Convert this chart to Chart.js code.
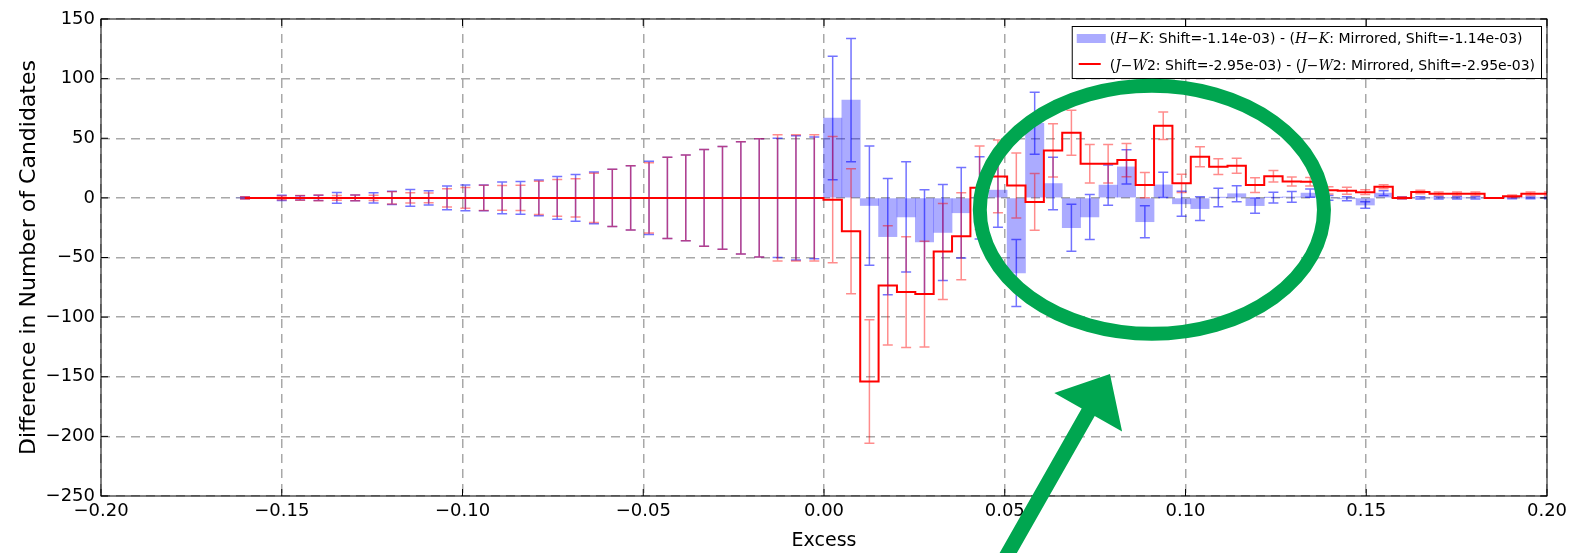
<!DOCTYPE html>
<html>
<head>
<meta charset="utf-8">
<script src="https://cdn.jsdelivr.net/npm/chart.js@4.4.0/dist/chart.umd.min.js"></script>
<style>
    html, body { margin: 0; padding: 0; background: #fff; }
    #wrap { width: 1573px; height: 553px; }
</style>
</head>
<body>
<div id="wrap"><canvas id="mirrorChart"></canvas></div>
<script>
// bin centres (Excess)
var excess = [
    -0.16016, -0.15508, -0.15000, -0.14492, -0.13984, -0.13476, -0.12968, -0.12460, -0.11952, -0.11444,
    -0.10936, -0.10428, -0.09920, -0.09412, -0.08904, -0.08396, -0.07888, -0.07380, -0.06872, -0.06364,
    -0.05856, -0.05348, -0.04840, -0.04332, -0.03824, -0.03316, -0.02808, -0.02300, -0.01792, -0.01284,
    -0.00776, -0.00268, 0.00240, 0.00748, 0.01256, 0.01764, 0.02272, 0.02780, 0.03288, 0.03796,
    0.04304, 0.04812, 0.05320, 0.05828, 0.06336, 0.06844, 0.07352, 0.07860, 0.08368, 0.08876,
    0.09384, 0.09892, 0.10400, 0.10908, 0.11416, 0.11924, 0.12432, 0.12940, 0.13448, 0.13956,
    0.14464, 0.14972, 0.15480, 0.15988, 0.16496, 0.17004, 0.17512, 0.18020, 0.18528, 0.19036,
    0.19544, 0.20052
];
// H-K difference (blue bars) and its errors
var hkDiff = [
    0, 0, 0, 0, 0, 0, 0, 0, 0, 0,
    0, 0, 0, 0, 0, 0, 0, 0, 0, 0,
    0, 0, 0, 0, 0, 0, 0, 0, 0, 0,
    0, 0, 67, 82, -6.4, -32.5, -16, -37, -29, -12.5,
    0, 6.5, -63, 62.5, 12, -25, -16, 10.7, 26, -20,
    10.9, -5, -9, 0.3, 3.5, -6.5, 0.2, 0.8, 4, 0,
    -0.8, -6, 4, 0, 0, 0, 0, 0, 0, 0,
    0, 0
];
var hkErr = [
    0.8, 0, 2.2, 1.8, 2.2, 4.5, 2.5, 4.2, 5.6, 7,
    6, 10, 10.8, 10.8, 13.4, 13.7, 15, 18, 19.7, 21.7,
    24, 27, 30.7, 34, 36, 40.5, 43, 47, 49.5, 50,
    52, 51, 51.7, 51.7, 50, 48.7, 46.2, 43.8, 40.2, 38,
    34.5, 31.2, 28, 26, 22, 19.7, 18.9, 16.8, 14.4, 13.5,
    10.5, 10.5, 10, 7.7, 6.7, 6.3, 4.6, 4.5, 3.5, 2,
    1.7, 2.7, 2, 0.8, 1, 1, 1, 1, 0, 0.8,
    0.8, 0.8
];
// J-W2 difference (red steps) and its errors
var jwDiff = [
    0, 0, 0, 0, 0, 0, 0, 0, 0, 0,
    0, 0, 0, 0, 0, 0, 0, 0, 0, 0,
    0, 0, 0, 0, 0, 0, 0, 0, 0, 0,
    0, 0, -1.5, -28, -154, -73.4, -79, -80.7, -45, -32.2,
    8.4, 18, 10.4, -3.4, 39.8, 54.6, 28.6, 28.6, 31.7, 10.7,
    60.5, 12.2, 34.5, 26.2, 27, 10.7, 18.2, 13.8, 13.5, 6.3,
    6, 4.8, 9.3, 0, 4.9, 3.4, 3.4, 3.4, 0, 1.4,
    3.4, 3.4
];
var jwErr = [
    1, 0, 1.5, 2, 2.5, 2, 2.5, 2.3, 5.2, 4.2,
    4, 7.7, 8.7, 10.5, 10.4, 10.5, 14, 15.4, 16, 20.6,
    24, 27, 29.5, 34, 36, 40.5, 43, 47, 49.5, 53,
    53, 53, 53, 52.5, 51.8, 50, 46.4, 44.3, 40.2, 36.4,
    35, 30.5, 27.3, 23.8, 22.3, 18.9, 16.1, 16.1, 14, 10.6,
    11.6, 7.6, 8.4, 6.7, 6.3, 6.1, 4.8, 3.8, 3.5, 3,
    3, 2, 1.7, 1, 1.5, 1.5, 1.5, 1.5, 0, 1,
    1.5, 1.5
];
// axis ticks
var xTickValues = [-0.20, -0.15, -0.10, -0.05, 0.00, 0.05, 0.10, 0.15, 0.20];
var xTickLabels = ['\u22120.20', '\u22120.15', '\u22120.10', '\u22120.05', '0.00', '0.05', '0.10', '0.15', '0.20'];
var yTickValues = [-250, -200, -150, -100, -50, 0, 50, 100, 150];
var yTickLabels = ['\u2212250', '\u2212200', '\u2212150', '\u2212100', '\u221250', '0', '50', '100', '150'];
// legend rows: [text, italic]
var hkLegend = [['(', false], ['H\u2212K', true], [': Shift=-1.14e-03) - (', false], ['H\u2212K', true], [': Mirrored, Shift=-1.14e-03)', false]];
var jwLegend = [['(', false], ['J\u2212W', true], ['2: Shift=-2.95e-03) - (', false], ['J\u2212W', true], ['2: Mirrored, Shift=-2.95e-03)', false]];
// highlight ring and arrow, in data units
var ringCentre = [0.0907, -10];
var ringRadius = [0.0476, 104];
var arrowTip = [0.0791, -147.7];
var arrowTail = [0.0498, -304];

var hkFill = 'rgba(0, 0, 255, 0.33)';
var hkErrColor = 'rgba(0, 0, 255, 0.55)';
var jwErrColor = 'rgba(255, 0, 0, 0.45)';
var markGreen = '#00a650';
var fontFamily = '"DejaVu Sans", sans-serif';

function toPoints(vals) {
    return excess.map(function(x, i) { return { x: x, y: vals[i] }; });
}

// error bars with caps
function drawErrors(chart, vals, errs, color) {
    const ctx = chart.ctx, xs = chart.scales.x, ys = chart.scales.y, area = chart.chartArea;
    ctx.save();
    ctx.beginPath();
    ctx.rect(area.left, area.top, area.right - area.left, area.bottom - area.top);
    ctx.clip();
    ctx.strokeStyle = color;
    ctx.lineWidth = 1.5;
    for (let i = 0; i < excess.length; i++) {
        if (!errs[i]) continue;
        const px = xs.getPixelForValue(excess[i]);
        const top = ys.getPixelForValue(vals[i] + errs[i]);
        const bot = ys.getPixelForValue(vals[i] - errs[i]);
        ctx.beginPath();
        ctx.moveTo(px, top); ctx.lineTo(px, bot);
        ctx.moveTo(px - 5, top); ctx.lineTo(px + 5, top);
        ctx.moveTo(px - 5, bot); ctx.lineTo(px + 5, bot);
        ctx.stroke();
    }
    ctx.restore();
}

var errorBarPlugin = {
    id: 'errorBars',
    afterDatasetDraw: function(chart, args) {
        if (args.index !== 0) return;
        drawErrors(chart, hkDiff, hkErr, hkErrColor);
        drawErrors(chart, jwDiff, jwErr, jwErrColor);
    }
};

// black frame with inward ticks on all four sides
var framePlugin = {
    id: 'frame',
    afterDraw: function(chart) {
        const ctx = chart.ctx, a = chart.chartArea, xs = chart.scales.x, ys = chart.scales.y;
        ctx.save();
        ctx.strokeStyle = '#000';
        ctx.lineWidth = 1;
        ctx.strokeRect(a.left, a.top, a.right - a.left, a.bottom - a.top);
        ctx.beginPath();
        xTickValues.forEach(function(v) {
            const px = xs.getPixelForValue(v);
            ctx.moveTo(px, a.bottom); ctx.lineTo(px, a.bottom - 7);
            ctx.moveTo(px, a.top); ctx.lineTo(px, a.top + 7);
        });
        yTickValues.forEach(function(v) {
            const py = ys.getPixelForValue(v);
            ctx.moveTo(a.left, py); ctx.lineTo(a.left + 7, py);
            ctx.moveTo(a.right, py); ctx.lineTo(a.right - 7, py);
        });
        ctx.stroke();
        ctx.restore();
    }
};

function drawRich(ctx, parts, x, y, measureOnly) {
    parts.forEach(function(p) {
        ctx.font = p[1] ? 'italic 14px "DejaVu Serif", serif' : '14px ' + fontFamily;
        if (!measureOnly) ctx.fillText(p[0], x, y);
        x += ctx.measureText(p[0]).width;
    });
    return x;
}

var legendPlugin = {
    id: 'mirrorLegend',
    afterDraw: function(chart) {
        const ctx = chart.ctx, a = chart.chartArea;
        ctx.save();
        ctx.textBaseline = 'middle';
        const textW = Math.max(drawRich(ctx, hkLegend, 0, 0, true), drawRich(ctx, jwLegend, 0, 0, true));
        const boxW = 38 + textW + 6, boxH = 52;
        const left = a.right - 6 - boxW, top = a.top + 7;
        ctx.fillStyle = '#fff';
        ctx.fillRect(left, top, boxW, boxH);
        ctx.strokeStyle = '#000';
        ctx.lineWidth = 1;
        ctx.strokeRect(left + 0.5, top + 0.5, boxW, boxH);
        ctx.fillStyle = hkFill;
        ctx.fillRect(left + 5, top + 8, 29, 9);
        ctx.strokeStyle = 'red';
        ctx.lineWidth = 2;
        ctx.beginPath();
        ctx.moveTo(left + 7, top + 38); ctx.lineTo(left + 29, top + 38);
        ctx.stroke();
        ctx.fillStyle = '#000';
        drawRich(ctx, hkLegend, left + 38, top + 13);
        drawRich(ctx, jwLegend, left + 38, top + 40);
        ctx.restore();
    }
};

// green ring and arrow drawn over the chart
var highlightPlugin = {
    id: 'highlight',
    afterDraw: function(chart) {
        const ctx = chart.ctx, xs = chart.scales.x, ys = chart.scales.y;
        const cx = xs.getPixelForValue(ringCentre[0]), cy = ys.getPixelForValue(ringCentre[1]);
        const rx = xs.getPixelForValue(ringCentre[0] + ringRadius[0]) - cx;
        const ry = cy - ys.getPixelForValue(ringCentre[1] + ringRadius[1]);
        ctx.save();
        ctx.strokeStyle = markGreen;
        ctx.lineWidth = 14;
        ctx.beginPath();
        ctx.ellipse(cx, cy, rx, ry, 0, 0, Math.PI * 2);
        ctx.stroke();

        const tx = xs.getPixelForValue(arrowTip[0]), ty = ys.getPixelForValue(arrowTip[1]);
        const bx = xs.getPixelForValue(arrowTail[0]), by = ys.getPixelForValue(arrowTail[1]);
        const len = Math.hypot(tx - bx, ty - by);
        const ux = (tx - bx) / len, uy = (ty - by) / len;
        const nx = -uy, ny = ux;
        const shaft = 7.5, headLen = 44, headW = 39;
        const hx = tx - ux * headLen, hy = ty - uy * headLen;
        ctx.fillStyle = markGreen;
        ctx.beginPath();
        ctx.moveTo(bx + nx * shaft, by + ny * shaft);
        ctx.lineTo(hx + nx * shaft, hy + ny * shaft);
        ctx.lineTo(hx + nx * headW, hy + ny * headW);
        ctx.lineTo(tx, ty);
        ctx.lineTo(hx - nx * headW, hy - ny * headW);
        ctx.lineTo(hx - nx * shaft, hy - ny * shaft);
        ctx.lineTo(bx - nx * shaft, by - ny * shaft);
        ctx.closePath();
        ctx.fill();
        ctx.restore();
    }
};

function initChart() {
    Chart.defaults.color = '#000';
    Chart.defaults.font.family = fontFamily;
    const gridOpts = { color: '#a8a8a8', lineWidth: 1.5, drawTicks: false, offset: false };
    const borderOpts = { display: false, dash: [9, 6] };

    const data = {
        datasets: [{
            type: 'bar',
            label: 'H-K',
            data: toPoints(hkDiff),
            backgroundColor: hkFill,
            borderWidth: 0,
            barThickness: 'flex',
            barPercentage: 1,
            categoryPercentage: 1,
            order: 2
        }, {
            type: 'line',
            label: 'J-W2',
            data: toPoints(jwDiff),
            borderColor: 'rgb(255, 0, 0)',
            borderWidth: 2,
            stepped: 'middle',
            fill: false,
            pointRadius: 0,
            order: 1
        }]
    };
    const config = {
        type: 'bar',
        data: data,
        options: {
            responsive: true,
            maintainAspectRatio: false,
            animation: false,
            layout: { padding: { left: 0, right: 26, top: 19, bottom: 0 } },
            plugins: { legend: { display: false }, tooltip: { enabled: false } },
            scales: {
                x: {
                    type: 'linear',
                    min: -0.2,
                    max: 0.2,
                    offset: false,
                    grid: gridOpts,
                    border: borderOpts,
                    afterBuildTicks: function(scale) {
                        scale.ticks = xTickValues.map(function(v) { return { value: v }; });
                    },
                    afterFit: function(scale) { scale.height = 57; },
                    ticks: {
                        padding: 5,
                        maxRotation: 0,
                        font: { size: 18 },
                        callback: function(v, i) { return xTickLabels[i]; }
                    },
                    title: { display: true, text: 'Excess', font: { size: 19 }, padding: { top: 0, bottom: 1 } }
                },
                y: {
                    type: 'linear',
                    min: -250,
                    max: 150,
                    grid: gridOpts,
                    border: borderOpts,
                    afterBuildTicks: function(scale) {
                        scale.ticks = yTickValues.map(function(v) { return { value: v }; });
                    },
                    afterFit: function(scale) { scale.width = 101; },
                    ticks: {
                        padding: 6,
                        font: { size: 18 },
                        callback: function(v, i) { return yTickLabels[i]; }
                    },
                    title: { display: true, text: 'Difference in Number of Candidates', font: { size: 22 }, padding: { top: 16, bottom: 0 } }
                }
            }
        },
        plugins: [errorBarPlugin, framePlugin, legendPlugin, highlightPlugin]
    };
    new Chart(document.getElementById('mirrorChart'), config);
}

initChart();
</script>
</body>
</html>
